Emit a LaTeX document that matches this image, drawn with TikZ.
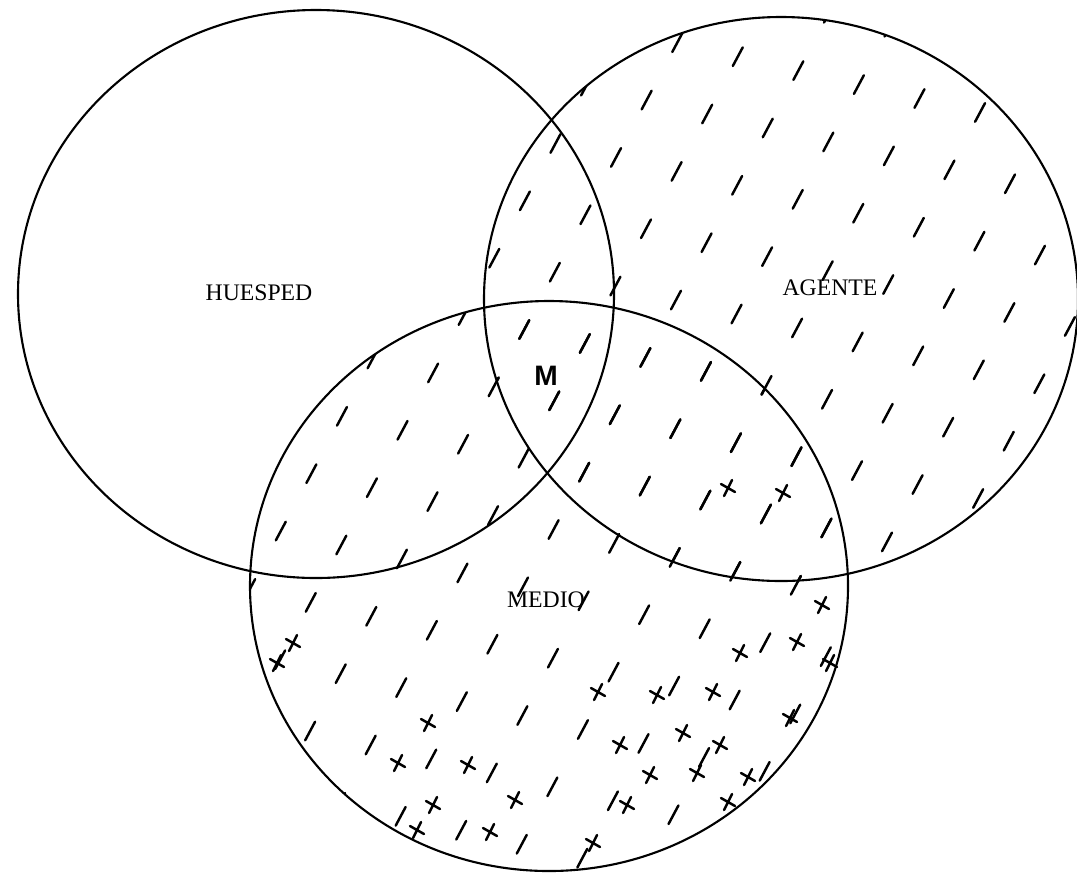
\documentclass[tikz,border=0pt]{standalone}
\usepackage{fontspec}
\setmainfont{Liberation Serif}
\newfontfamily\marksans{Liberation Sans}
\usetikzlibrary{positioning}

\begin{document}
\begin{tikzpicture}[x=0.02cm,y=-0.02cm,
    ring/.style={line width=1.2pt},
    hatch/.style={line width=1.4pt,line cap=round,dash pattern=on 12pt off 25pt},
    xmark/.style={line width=1.4pt,line cap=round},
    label/.style={font=\fontsize{13.5}{14}\selectfont,inner sep=0pt}]
        \useasboundingbox (0,0) rectangle (1077,873);
        \coordinate (huesped) at (316,294);
        \coordinate (agente) at (781,299);
        \coordinate (medio) at (549,586);
        \begin{scope}
            \clip (agente) ellipse [x radius=297, y radius=282];
            \foreach \k in {0,...,25}
                \draw[hatch,dash phase=\k*9pt] (\k*68-120,900) -- ++(480,-900);
        \end{scope}
        \begin{scope}
            \clip (medio) ellipse [x radius=299, y radius=285];
            \foreach \k in {0,...,25}
                \draw[hatch,dash phase=\k*9pt] (\k*68-120,900) -- ++(480,-900);
        \end{scope}
        \foreach \p in {(293,643),(277,663),(428,723),(398,763),(468,765),(433,805),
                        (515,800),(417,830),(490,832),(740,653),(713,692),(657,695),
                        (598,692),(683,733),(720,745),(620,745),(650,775),(697,773),
                        (748,777),(627,805),(728,802),(593,843),(790,718),(797,642),
                        (830,663),(728,488),(783,493),(822,605)}
            \draw[xmark] \p ++(-4,8) -- ++(8,-16) \p ++(-7,-4) -- ++(14,8);
        \draw[ring] (huesped) ellipse [x radius=298, y radius=284];
        \draw[ring] (agente) ellipse [x radius=297, y radius=282];
        \draw[ring] (medio) ellipse [x radius=299, y radius=285];
        \node[label] (lhuesped) at (259,293) {HUESPED};
        \node[label] (lagente) at (830,288) {AGENTE};
        \node[label] (lmedio) at (546,600) {MEDIO};
        \node[font=\marksans\bfseries\fontsize{16}{16}\selectfont,inner sep=0pt] (m) at (546,376) {M};
    \end{tikzpicture}
\end{document}
